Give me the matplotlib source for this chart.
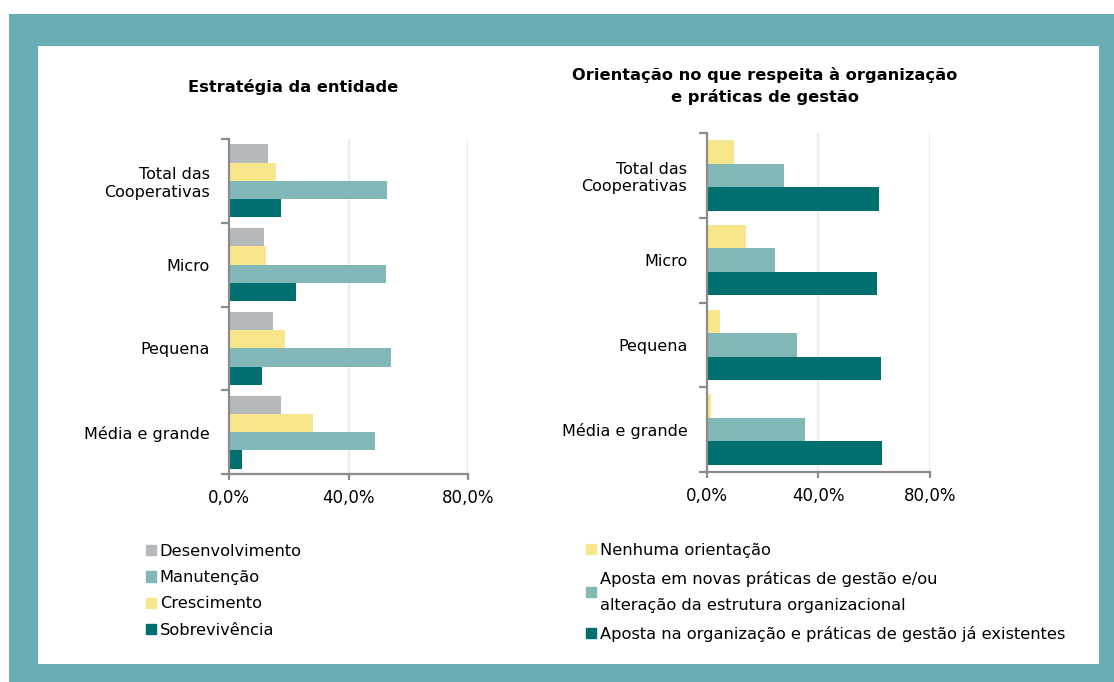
import numpy as np
import matplotlib
matplotlib.use("Agg")
import matplotlib.pyplot as plt
from matplotlib.patches import Rectangle, Patch
from matplotlib.ticker import FuncFormatter

# Categorias (de cima para baixo)
categorias = ["Total das\nCooperativas", "Micro", "Pequena", "Média e grande"]

# Estratégia da entidade (%)
desenvolvimento = [13.0, 11.6, 14.7, 17.4]
crescimento = [15.8, 12.3, 18.9, 28.1]
manutencao = [52.8, 52.6, 54.3, 48.8]
sobrevivencia = [17.3, 22.4, 11.2, 4.3]

# Orientação quanto à organização e práticas de gestão (%)
nenhuma = [9.9, 14.0, 4.8, 1.4]
novas_praticas = [27.8, 24.4, 32.2, 35.3]
praticas_existentes = [61.6, 60.9, 62.3, 62.7]

# Cores
cinza = "#b5b9bb"
amarelo = "#f8e68c"
verde_claro = "#82b8b8"
verde_escuro = "#006f6f"
moldura = "#69aeb4"
eixo = "#8c8c8c"

plt.rcParams["font.family"] = "DejaVu Sans"

fig = plt.figure(figsize=(11.14, 6.82), dpi=100)
W, H = 1114, 682

# moldura e fundo branco
fig.patches.append(Rectangle((9 / W, 0), 1, 1 - 14 / H, transform=fig.transFigure,
                             facecolor=moldura, edgecolor="none", zorder=-2))
fig.patches.append(Rectangle((38 / W, 1 - 664 / H), (1099 - 38) / W, (664 - 46) / H,
                             transform=fig.transFigure, facecolor="white",
                             edgecolor="none", zorder=-1))


def estilo_eixo(ax):
    n = len(categorias)
    ax.set_xlim(0, 80)
    ax.set_ylim(n, 0)
    ax.set_facecolor("none")
    for s in ["top", "right"]:
        ax.spines[s].set_visible(False)
    for s in ["left", "bottom"]:
        ax.spines[s].set_color(eixo)
        ax.spines[s].set_linewidth(1.6)
    ax.set_xticks([0, 40, 80])
    ax.xaxis.set_major_formatter(FuncFormatter(lambda v, p: f"{v:.1f}%".replace(".", ",")))
    ax.tick_params(axis="x", length=4, width=1.6, color=eixo, labelsize=12, pad=7)
    ax.set_yticks(np.arange(n) + 0.5)
    ax.set_yticklabels(categorias)
    ax.tick_params(axis="y", length=0, labelsize=11.5, pad=14)
    ax.set_yticks(np.arange(n + 1), minor=True)
    ax.tick_params(axis="y", which="minor", length=6, width=1.6, color=eixo)
    for v in [40, 80]:
        ax.axvline(v, color="#ececec", lw=1.6, zorder=0)


# Gráfico da esquerda
ax1 = fig.add_axes([229 / W, 1 - 474 / H, 239 / W, (474 - 139) / H])
series1 = [desenvolvimento, crescimento, manutencao, sobrevivencia]
cores1 = [cinza, amarelo, verde_claro, verde_escuro]
altura1 = 0.218
y = np.arange(len(categorias)) + 0.5
for i, (vals, cor) in enumerate(zip(series1, cores1)):
    ax1.barh(y + (i - 1.5) * altura1, vals, height=altura1, color=cor, zorder=2)
estilo_eixo(ax1)

# Gráfico da direita
ax2 = fig.add_axes([706.7 / W, 1 - 472 / H, 223.3 / W, (472 - 133) / H])
series2 = [nenhuma, novas_praticas, praticas_existentes]
cores2 = [amarelo, verde_claro, verde_escuro]
altura2 = 0.278
for i, (vals, cor) in enumerate(zip(series2, cores2)):
    ax2.barh(y + (i - 1) * altura2, vals, height=altura2, color=cor, zorder=2)
estilo_eixo(ax2)

# Títulos
fig.text(293 / W, 1 - 87 / H, "Estratégia da entidade", ha="center", va="center",
         fontsize=11.7, fontweight="bold")
fig.text(765 / W, 1 - 86 / H, "Orientação no que respeita à organização\ne práticas de gestão",
         ha="center", va="center", fontsize=11.7, fontweight="bold", linespacing=1.45)

# Legendas
leg1 = [Patch(color=cinza, label="Desenvolvimento"),
        Patch(color=verde_claro, label="Manutenção"),
        Patch(color=amarelo, label="Crescimento"),
        Patch(color=verde_escuro, label="Sobrevivência")]
fig.legend(handles=leg1, loc="upper left", bbox_to_anchor=(146 / W, 1 - 544 / H),
           frameon=False, fontsize=11.7, handlelength=0.6, handleheight=0.6,
           handletextpad=0.25, labelspacing=0.69, borderaxespad=0, borderpad=0)

leg2 = [Patch(color=amarelo, label="Nenhuma orientação"),
        Patch(color=verde_claro, label="Aposta em novas práticas de gestão e/ou\nalteração da estrutura organizacional"),
        Patch(color=verde_escuro, label="Aposta na organização e práticas de gestão já existentes")]
lg2 = fig.legend(handles=leg2, loc="upper left", bbox_to_anchor=(586 / W, 1 - 543 / H),
                 frameon=False, fontsize=11.7, handlelength=0.6, handleheight=0.6,
                 handletextpad=0.25, labelspacing=0.8, borderaxespad=0, borderpad=0)
for t in lg2.get_texts():
    t.set_linespacing(1.9)

fig.savefig("out.png", dpi=100)
